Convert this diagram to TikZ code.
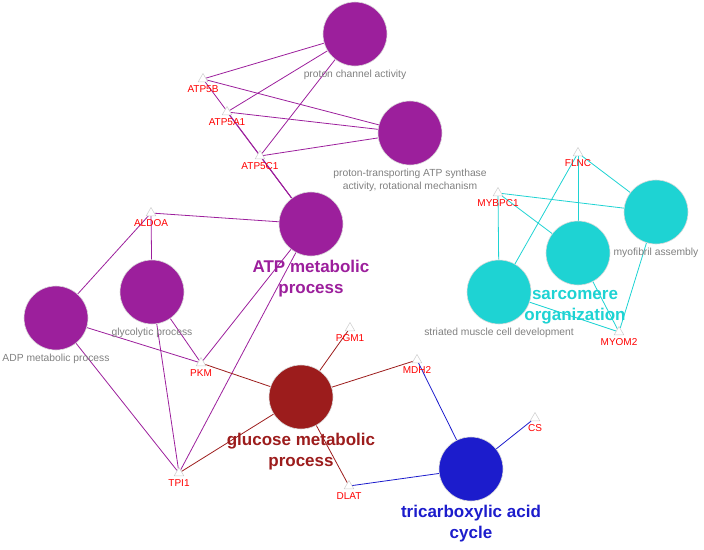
\documentclass[tikz,border=0pt]{standalone}
\usepackage{fontspec}
\setmainfont{Liberation Sans}
\usetikzlibrary{shapes.geometric,backgrounds}
\definecolor{atpviolet}{HTML}{9C1F9C}
\definecolor{glured}{HTML}{9C1C1C}
\definecolor{tcablue}{HTML}{1C1CCC}
\definecolor{sarcyan}{HTML}{1ED3D3}
\definecolor{termgray}{HTML}{808080}

\tikzset{
  term/.style={circle, minimum size=64pt, inner sep=0pt, draw=gray!30, line width=0.6pt},
  gene/.style={regular polygon, regular polygon sides=3, minimum size=11pt, inner sep=0pt,
    draw=gray!40, fill=white, line width=0.5pt},
  genelab/.style={font=\fontsize{10}{12}\selectfont, text=red, inner sep=0.5pt},
  termlab/.style={font=\fontsize{10.3}{12.5}\selectfont, text=termgray, inner sep=1pt, align=center},
  biglab/.style={font=\bfseries\fontsize{17}{21}\selectfont, align=center, inner sep=1pt},
  link/.style={line width=0.8pt},
}

\begin{document}
\begin{tikzpicture}[x=1pt, y=-1pt]
  \useasboundingbox (0,0) rectangle (704,549);

  % Term circles
  \node[term, fill=atpviolet, label={[termlab, label distance=3pt]below:proton channel activity}] (pca) at (355,34) {};
  \node[term, fill=atpviolet, label={[termlab, label distance=3pt]below:proton-transporting ATP synthase\\activity, rotational mechanism}] (ptas) at (410,133) {};
  \node[term, fill=atpviolet, label={[biglab, text=atpviolet, label distance=3pt]below:ATP metabolic\\process}] (atpm) at (311,224) {};
  \node[term, fill=atpviolet, label={[termlab, label distance=3pt]below:glycolytic process}] (glyc) at (152,292) {};
  \node[term, fill=atpviolet, label={[termlab, label distance=3pt]below:ADP metabolic process}] (adpm) at (56,318) {};
  \node[term, fill=glured, label={[biglab, text=glured, label distance=3pt]below:glucose metabolic\\process}] (glum) at (301,397) {};
  \node[term, fill=tcablue, label={[biglab, text=tcablue, label distance=3pt]below:tricarboxylic acid\\cycle}] (tca) at (471,469) {};
  \node[term, fill=sarcyan, label={[termlab, label distance=3pt]below:striated muscle cell development}] (smcd) at (499,292) {};
  \node[term, fill=sarcyan] (sarc) at (578,253) {};
  \node[biglab, text=sarcyan, anchor=north] (sarclab) at (575,289) {sarcomere\\organization};
  \node[term, fill=sarcyan, label={[termlab, label distance=3pt]below:myofibril assembly}] (myof) at (656,212) {};

  % Gene triangles
  \node[gene, label={[genelab, label distance=3pt]below:ATP5B}] (atp5b) at (203,79) {};
  \node[gene, label={[genelab, label distance=3pt]below:ATP5A1}] (atp5a1) at (227,112) {};
  \node[gene, label={[genelab, label distance=3pt]below:ATP5C1}] (atp5c1) at (260,156) {};
  \node[gene, label={[genelab, label distance=3pt]below:ALDOA}] (aldoa) at (151,213) {};
  \node[gene, label={[genelab, label distance=3pt]below:PKM}] (pkm) at (201,363) {};
  \node[gene, label={[genelab, label distance=3pt]below:TPI1}] (tpi1) at (179,473) {};
  \node[gene, label={[genelab, label distance=3pt]below:PGM1}] (pgm1) at (350,328) {};
  \node[gene, label={[genelab, label distance=3pt]below:MDH2}] (mdh2) at (417,360) {};
  \node[gene, label={[genelab, label distance=3pt]below:DLAT}] (dlat) at (349,486) {};
  \node[gene, label={[genelab, label distance=3pt]below:CS}] (cs) at (535,418) {};
  \node[gene, label={[genelab, label distance=3pt]below:FLNC}] (flnc) at (578,153) {};
  \node[gene, label={[genelab, label distance=3pt]below:MYBPC1}] (mybpc1) at (498,193) {};
  \node[gene, label={[genelab, label distance=3pt]below:MYOM2}] (myom2) at (619,332) {};

  % Links
  \begin{scope}[on background layer]
    \foreach \g in {atp5b, atp5a1, atp5c1}
      \foreach \t in {pca, ptas, atpm}
        \draw[link, atpviolet] (\g) -- (\t);
    \foreach \g in {aldoa, pkm, tpi1}
      \foreach \t in {atpm, glyc, adpm}
        \draw[link, atpviolet] (\g) -- (\t);
    \foreach \g in {pkm, tpi1, pgm1, mdh2, dlat}
      \draw[link, glured] (\g) -- (glum);
    \foreach \g in {mdh2, dlat, cs}
      \draw[link, tcablue] (\g) -- (tca);
    \foreach \g in {flnc, mybpc1, myom2}
      \foreach \t in {smcd, sarc, myof}
        \draw[link, sarcyan] (\g) -- (\t);
  \end{scope}
\end{tikzpicture}
\end{document}
